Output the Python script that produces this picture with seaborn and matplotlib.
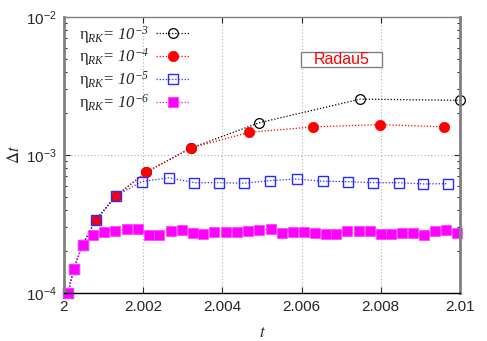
import numpy as np
import pandas as pd
import matplotlib
matplotlib.use("Agg")
import matplotlib.pyplot as plt
from matplotlib.font_manager import FontProperties
from matplotlib.patches import Rectangle
import seaborn as sns

# ---- data ----
t_e3 = [2.0001, 2.00025, 2.00047, 2.0008, 2.00131, 2.00207, 2.00321, 2.00492, 2.00748, 2.00999]
dt_e3 = [1.0e-4, 1.5e-4, 2.24e-4, 3.37e-4, 5.05e-4, 7.5e-4, 1.125e-3, 1.71e-3, 2.54e-3, 2.49e-3]

t_e4 = [2.0001, 2.00025, 2.00047, 2.0008, 2.00131, 2.00207, 2.00321, 2.00468, 2.0063, 2.00797, 2.00959]
dt_e4 = [1.0e-4, 1.5e-4, 2.24e-4, 3.37e-4, 5.05e-4, 7.5e-4, 1.125e-3, 1.46e-3, 1.60e-3, 1.66e-3, 1.60e-3]

t_e5 = [2.0001, 2.00025, 2.00047, 2.0008, 2.00131, 2.00196, 2.00265, 2.00329, 2.00392,
        2.00455, 2.00521, 2.00588, 2.00653, 2.00718, 2.00781, 2.00845, 2.00907, 2.00969]
dt_e5 = [1.0e-4, 1.5e-4, 2.24e-4, 3.37e-4, 5.05e-4, 6.41e-4, 6.85e-4, 6.30e-4, 6.30e-4,
         6.25e-4, 6.52e-4, 6.70e-4, 6.46e-4, 6.41e-4, 6.30e-4, 6.30e-4, 6.17e-4, 6.20e-4]

t_e6 = [2.0001, 2.00025, 2.00047, 2.00074, 2.00102, 2.0013, 2.00158, 2.00188, 2.00215, 2.00241,
        2.00269, 2.00297, 2.00325, 2.00352, 2.0038, 2.00409, 2.00437, 2.00465, 2.00493, 2.00522,
        2.0055, 2.00578, 2.00605, 2.00633, 2.00661, 2.00687, 2.00715, 2.00744, 2.00773, 2.008,
        2.00826, 2.00854, 2.00881, 2.00908, 2.00936, 2.00964, 2.00992]
dt_e6 = [1.0e-4, 1.5e-4, 2.24e-4, 2.64e-4, 2.75e-4, 2.81e-4, 2.89e-4, 2.92e-4, 2.64e-4, 2.63e-4,
         2.82e-4, 2.85e-4, 2.72e-4, 2.69e-4, 2.79e-4, 2.77e-4, 2.76e-4, 2.81e-4, 2.86e-4, 2.89e-4,
         2.70e-4, 2.79e-4, 2.76e-4, 2.70e-4, 2.69e-4, 2.69e-4, 2.83e-4, 2.83e-4, 2.81e-4, 2.69e-4,
         2.67e-4, 2.74e-4, 2.74e-4, 2.64e-4, 2.83e-4, 2.85e-4, 2.74e-4]

exponents = ['-3', '-4', '-5', '-6']
labels = [r'$\mathsf{\eta}_{RK}\!\mathsf{=}\,10^{' + e + '}$' for e in exponents]
xticks = [2, 2.002, 2.004, 2.006, 2.008, 2.01]
xticklabels = ['2', '2.002', '2.004', '2.006', '2.008', '2.01']
yticks = [1e-4, 1e-3, 1e-2]
yticklabels = [r'$\mathregular{10^{-4}}$', r'$\mathregular{10^{-3}}$', r'$\mathregular{10^{-2}}$']
box_text = 'Radau5'

sns.set_style("ticks")
plt.rcParams['font.family'] = ['Liberation Sans', 'DejaVu Sans']
plt.rcParams['mathtext.fontset'] = 'stix'
plt.rcParams['mathtext.rm'] = 'Liberation Serif:italic'
plt.rcParams['mathtext.it'] = 'Liberation Serif:italic'
plt.rcParams['mathtext.sf'] = 'Liberation Serif'

fig = plt.figure(figsize=(4.87, 3.41), dpi=100)
ax = fig.add_axes([64/487, 1-293/341, (460-64)/487, (293-17)/341])

styles = [
    dict(t=t_e3, v=dt_e3, color='black', marker='o', ms=7, mfc='none', mec='black', mew=0.9),
    dict(t=t_e4, v=dt_e4, color='red', marker='o', ms=7.5, mfc='red', mec='red', mew=0.5),
    dict(t=t_e5, v=dt_e5, color='#2a2aff', marker='s', ms=6.5, mfc='none', mec='#2a2aff', mew=1.0),
    dict(t=t_e6, v=dt_e6, color='#ff00ff', marker='s', ms=7.0, mfc='#ff00ff', mec='#ff44ff', mew=0.6),
]
for s, lab in zip(styles, labels):
    df = pd.DataFrame({'t': s['t'], 'dt': s['v']})
    sns.lineplot(data=df, x='t', y='dt', ax=ax, color=s['color'], estimator=None, sort=False,
                 linestyle=(0, (1, 1.5)), linewidth=0.9, marker=s['marker'], markersize=s['ms'],
                 markerfacecolor=s['mfc'], markeredgecolor=s['mec'], markeredgewidth=s['mew'],
                 label=lab, clip_on=False)

ax.set_yscale('log')
ax.set_xlim(2, 2.01)
ax.set_ylim(1e-4, 1e-2)
ax.set_xticks(xticks)
ax.set_xticklabels(xticklabels, fontsize=11)
ax.set_yticks(yticks)
ax.set_yticklabels(yticklabels, fontsize=11)
ax.tick_params(which='both', direction='in', top=True, right=True)
ax.tick_params(which='major', length=4, width=0.8, pad=5)
ax.tick_params(which='minor', length=2.5, width=0.8)
ax.tick_params(axis='x', which='minor', bottom=False, top=False)
ax.grid(True, which='major', linestyle=(0, (1, 2)), color='#b0b0b0', linewidth=0.8)

for side in ['left', 'right']:
    ax.spines[side].set_color('#808080')
    ax.spines[side].set_linewidth(2.0)
ax.spines['top'].set_color('#808080')
ax.spines['top'].set_linewidth(1.0)
ax.spines['bottom'].set_color('black')
ax.spines['bottom'].set_linewidth(1.0)

ax.set_xlabel(r'$t$', fontsize=12, labelpad=8)
ax.set_ylabel(r'$\Delta t$', fontsize=12, labelpad=3)

leg = ax.legend(loc='upper left', bbox_to_anchor=(0.02, 1.0), frameon=False, markerfirst=False,
                handlelength=2.05, labelspacing=0.05, borderaxespad=0.1, borderpad=0.3,
                handletextpad=0.4,
                prop=FontProperties(size=12, math_fontfamily='custom'))

ax.add_patch(Rectangle((0.598, 0.819), 0.205, 0.054, transform=ax.transAxes,
                       facecolor='white', edgecolor='#808080', linewidth=1.0, zorder=5))
ax.text(0.70, 0.846, box_text, transform=ax.transAxes, color='red', fontsize=11.5,
        ha='center', va='center', zorder=6)

fig.savefig('out.png', dpi=100)
